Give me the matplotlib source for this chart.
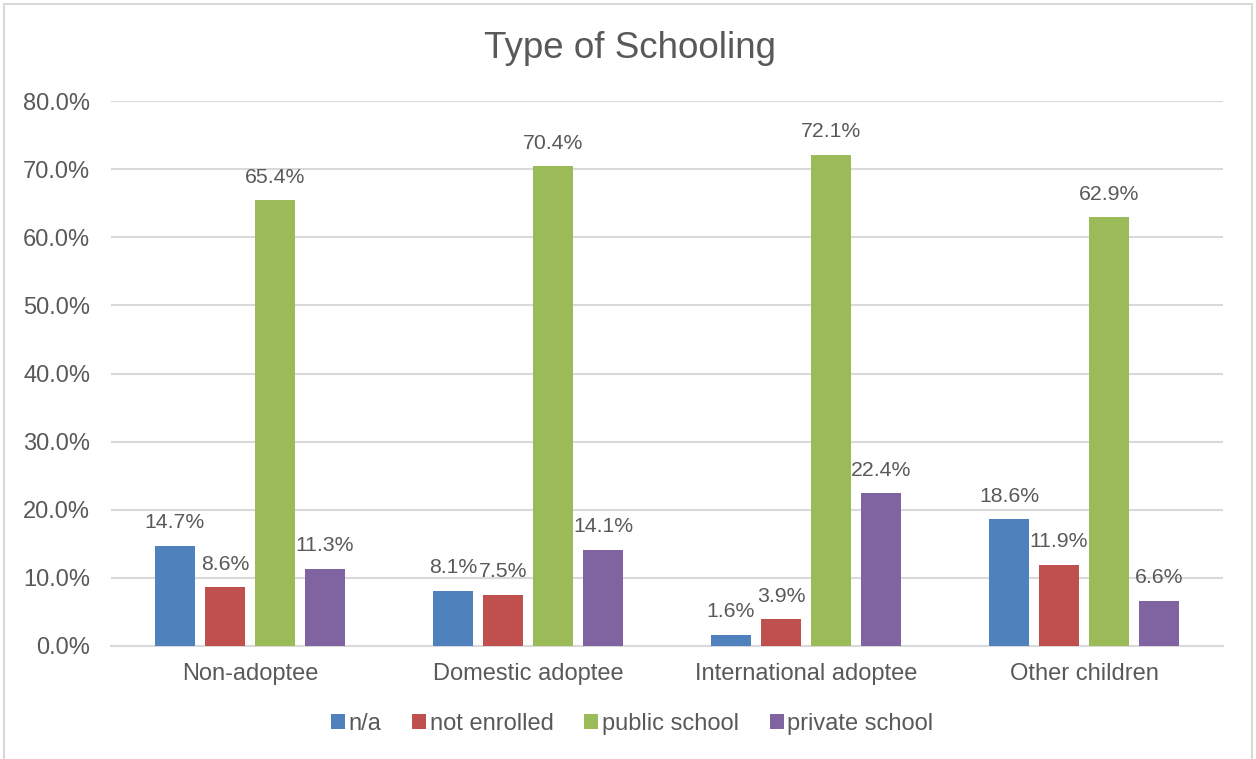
import matplotlib
matplotlib.use("Agg")
import matplotlib.pyplot as plt
import numpy as np
from matplotlib.patches import Rectangle

categories = ["Non-adoptee", "Domestic adoptee", "International adoptee", "Other children"]
series_names = ["n/a", "not enrolled", "public school", "private school"]
na_vals = [14.7, 8.1, 1.6, 18.6]
not_enrolled_vals = [8.6, 7.5, 3.9, 11.9]
public_vals = [65.4, 70.4, 72.1, 62.9]
private_vals = [11.3, 14.1, 22.4, 6.6]
yticks = [0, 10, 20, 30, 40, 50, 60, 70, 80]

colors = ["#4F81BD", "#C0504D", "#9BBB59", "#8064A2"]
txt = "#595959"
plt.rcParams['font.family'] = ['Liberation Sans', 'DejaVu Sans']

fig = plt.figure(figsize=(12.56, 7.59), dpi=100)
ax = fig.add_axes([111/1256, 1-646/759, (1223-111)/1256, (646-101)/759])

# outer chart border
fig.patches.append(Rectangle((4/1256, -0.01), (1252-4)/1256, 1-4/759 + 0.01,
                             transform=fig.transFigure, fill=False,
                             edgecolor="#D9D9D9", linewidth=1.5))

all_vals = [na_vals, not_enrolled_vals, public_vals, private_vals]
x = np.arange(len(categories))
w = 40/278
stride = 50/278
for i, (vals, name, c) in enumerate(zip(all_vals, series_names, colors)):
    pos = x + (i - 1.5) * stride
    ax.bar(pos, vals, width=w, color=c, label=name, zorder=3)
    for p, v in zip(pos, vals):
        ax.text(p, v + 2.0, f"{v:.1f}%", ha="center", va="bottom",
                fontsize=15.3, color=txt, zorder=4)

ax.set_xlim(-0.5, 3.5)
ax.set_ylim(0, 80)
ax.set_yticks(yticks)
ax.set_yticklabels([f"{t:.1f}%" for t in yticks], fontsize=17, color=txt)
ax.set_xticks(x)
ax.set_xticklabels(categories, fontsize=17, color=txt)
ax.tick_params(axis="both", length=0)
ax.tick_params(axis="x", pad=12)
ax.tick_params(axis="y", pad=15)
ax.grid(axis="y", color="#D9D9D9", linewidth=1.5, zorder=0)
for s in ["top", "right", "left"]:
    ax.spines[s].set_visible(False)
ax.spines["bottom"].set_color("#D9D9D9")
ax.spines["bottom"].set_linewidth(1.5)

fig.text(630/1256, 1-48/759, "Type of Schooling", ha="center", va="center",
         fontsize=26.5, color=txt)

leg = fig.legend(loc="center", bbox_to_anchor=(632/1256, 1-724/759), ncol=4,
                 frameon=False, fontsize=17, handlelength=0.6, handleheight=0.6,
                 handletextpad=0.15, columnspacing=1.3)
for t in leg.get_texts():
    t.set_color(txt)

fig.savefig("out.png", dpi=100, facecolor="white")
